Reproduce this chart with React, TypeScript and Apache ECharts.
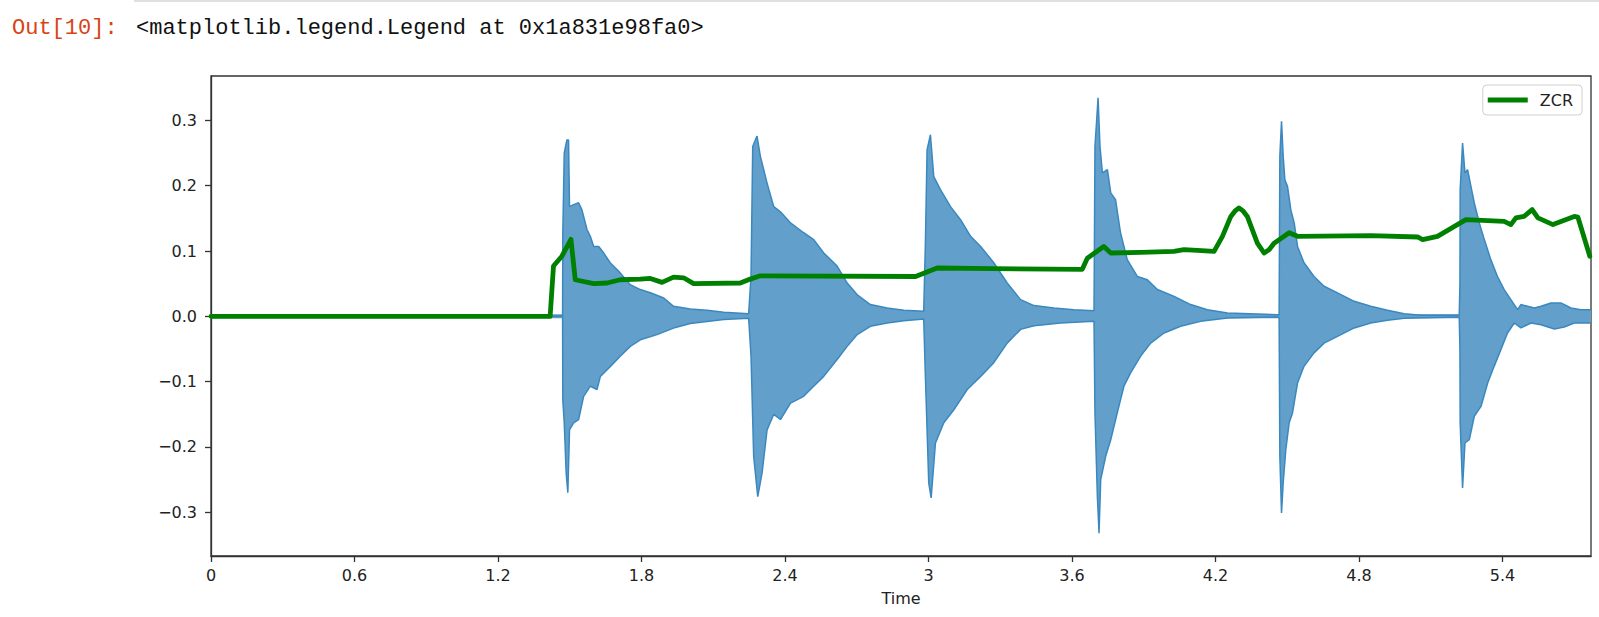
import React, { useEffect, useRef } from "react";
import * as echarts from "echarts";

const xTicks = [0, 0.6, 1.2, 1.8, 2.4, 3, 3.6, 4.2, 4.8, 5.4];
const yTicks = [-0.3, -0.2, -0.1, 0, 0.1, 0.2, 0.3];

// waveform envelope (time s, amplitude)
const upperEnv: [number, number][] = [
  [0, 0], [1.47, 0], [1.471, 0.128], [1.477, 0.25], [1.488, 0.27], [1.495, 0.27], [1.499, 0.168], [1.516, 0.171], [1.537, 0.174], [1.551, 0.163], [1.572, 0.133], [1.586, 0.1225], [1.6, 0.107], [1.621, 0.107], [1.642, 0.097], [1.669, 0.082], [1.711, 0.0665], [1.753, 0.0485], [1.795, 0.041], [1.837, 0.036], [1.893, 0.028], [1.934, 0.0153], [2.004, 0.0113], [2.074, 0.0092], [2.144, 0.0061], [2.248, 0.004],
  [2.258, 0.061], [2.265, 0.26], [2.283, 0.276], [2.297, 0.245], [2.325, 0.204], [2.353, 0.168], [2.381, 0.16], [2.423, 0.143], [2.478, 0.128], [2.52, 0.1175], [2.562, 0.097], [2.618, 0.077], [2.66, 0.051], [2.702, 0.033], [2.757, 0.018], [2.827, 0.0128], [2.897, 0.0092], [2.98, 0.0077],
  [2.987, 0.112], [2.994, 0.255], [3.008, 0.278], [3.022, 0.214], [3.05, 0.194], [3.092, 0.168], [3.134, 0.148], [3.176, 0.1225], [3.218, 0.107], [3.273, 0.082], [3.329, 0.051], [3.385, 0.0256], [3.441, 0.0164], [3.524, 0.0128], [3.608, 0.0102], [3.692, 0.0087],
  [3.696, 0.26], [3.709, 0.3345], [3.717, 0.26], [3.727, 0.2196], [3.748, 0.2246], [3.762, 0.189], [3.782, 0.1786], [3.803, 0.1276], [3.831, 0.0868], [3.873, 0.061], [3.915, 0.056], [3.957, 0.041], [4.027, 0.0306], [4.096, 0.018], [4.166, 0.0102], [4.25, 0.0052], [4.459, 0.0026],
  [4.466, 0.002], [4.469, 0.245], [4.476, 0.2986], [4.483, 0.245], [4.49, 0.209], [4.501, 0.199], [4.515, 0.163], [4.529, 0.143], [4.543, 0.107], [4.57, 0.082], [4.612, 0.061], [4.654, 0.046], [4.71, 0.036], [4.78, 0.023], [4.849, 0.0153], [4.919, 0.0092], [4.989, 0.004], [5.059, 0.0015], [5.219, 0.0015],
  [5.222, 0.05], [5.223, 0.194], [5.233, 0.2655], [5.243, 0.2196], [5.254, 0.2246], [5.268, 0.199], [5.282, 0.1736], [5.303, 0.143], [5.324, 0.1175], [5.351, 0.0868], [5.379, 0.061], [5.407, 0.041], [5.435, 0.0256], [5.463, 0.0102], [5.477, 0.018], [5.505, 0.0153], [5.533, 0.0128], [5.561, 0.0153], [5.603, 0.0205], [5.644, 0.0205], [5.686, 0.0128], [5.728, 0.0102], [5.77, 0.0102],
];

const lowerEnv: [number, number][] = [
  [0, 0], [1.47, 0], [1.471, -0.128], [1.477, -0.163], [1.485, -0.24], [1.492, -0.27], [1.499, -0.174], [1.516, -0.163], [1.537, -0.158], [1.558, -0.1225], [1.586, -0.107], [1.614, -0.112], [1.628, -0.092], [1.669, -0.077], [1.711, -0.061], [1.753, -0.046], [1.795, -0.036], [1.865, -0.028], [1.934, -0.018], [2.004, -0.011], [2.144, -0.005], [2.248, -0.003],
  [2.258, -0.061], [2.269, -0.214], [2.286, -0.276], [2.304, -0.24], [2.325, -0.174], [2.353, -0.15], [2.381, -0.158], [2.423, -0.133], [2.478, -0.1225], [2.52, -0.107], [2.562, -0.092], [2.618, -0.066], [2.66, -0.046], [2.702, -0.028], [2.757, -0.0153], [2.827, -0.0102], [2.897, -0.0066], [2.98, -0.004],
  [2.987, -0.092], [3.001, -0.255], [3.011, -0.278], [3.029, -0.194], [3.064, -0.163], [3.106, -0.143], [3.162, -0.112], [3.218, -0.092], [3.273, -0.071], [3.329, -0.041], [3.385, -0.02], [3.441, -0.0143], [3.552, -0.0102], [3.692, -0.0077],
  [3.696, -0.148], [3.706, -0.2756], [3.713, -0.332], [3.72, -0.25], [3.741, -0.214], [3.762, -0.189], [3.789, -0.148], [3.817, -0.107], [3.845, -0.0867], [3.887, -0.061], [3.929, -0.041], [3.985, -0.0255], [4.054, -0.0153], [4.138, -0.0077], [4.25, -0.0025], [4.459, -0.001],
  [4.466, -0.002], [4.469, -0.214], [4.476, -0.301], [4.483, -0.255], [4.494, -0.204], [4.508, -0.163], [4.522, -0.148], [4.543, -0.102], [4.57, -0.0766], [4.612, -0.056], [4.654, -0.041], [4.71, -0.0306], [4.78, -0.0178], [4.849, -0.0102], [4.919, -0.0061], [4.989, -0.003], [5.219, -0.001],
  [5.222, -0.05], [5.223, -0.163], [5.233, -0.263], [5.243, -0.194], [5.261, -0.189], [5.282, -0.153], [5.31, -0.138], [5.338, -0.102], [5.365, -0.0766], [5.393, -0.051], [5.421, -0.0255], [5.449, -0.0102], [5.477, -0.0178], [5.519, -0.0102], [5.561, -0.0128], [5.617, -0.0194], [5.658, -0.0163], [5.7, -0.0102], [5.77, -0.0102],
];

const zcr: [number, number][] = [
  [0, 0], [1.418, 0], [1.432, 0.077], [1.467, 0.092], [1.505, 0.118], [1.523, 0.056], [1.6, 0.05], [1.656, 0.051], [1.711, 0.056], [1.795, 0.057], [1.837, 0.058], [1.886, 0.052], [1.934, 0.06], [1.976, 0.059], [2.018, 0.05], [2.213, 0.051], [2.255, 0.057], [2.297, 0.062], [2.946, 0.061], [3.036, 0.074], [3.273, 0.073], [3.643, 0.072], [3.664, 0.089], [3.733, 0.107], [3.762, 0.097], [3.887, 0.098], [4.026, 0.0995], [4.068, 0.102], [4.124, 0.101], [4.194, 0.0995], [4.229, 0.1225], [4.264, 0.153], [4.281, 0.161], [4.298, 0.166], [4.316, 0.161], [4.333, 0.153], [4.375, 0.112], [4.403, 0.097], [4.424, 0.102], [4.445, 0.112], [4.508, 0.128], [4.543, 0.1225], [4.849, 0.1235], [5.045, 0.1215], [5.066, 0.1175], [5.128, 0.1225], [5.247, 0.148], [5.407, 0.1455], [5.435, 0.1405], [5.456, 0.1507], [5.49, 0.153], [5.524, 0.1634], [5.548, 0.1507], [5.611, 0.1405], [5.7, 0.153], [5.715, 0.152], [5.765, 0.092],
];

const WAVE_FILL = "#62a0cb";
const WAVE_EDGE = "#3a88bf";
const AXIS = "#333";
const TXT = "#222";
const FONT = "DejaVu Sans";

export default function App() {
  const ref = useRef<HTMLDivElement>(null);
  useEffect(() => {
    if (!ref.current) return;
    const chart = echarts.init(ref.current, null, { renderer: "svg" });
    const fmtY = (v: number) => {
      const r = Math.round(v * 10) / 10;
      return (r < 0 ? "\u2212" : "") + Math.abs(r).toFixed(1);
    };
    chart.setOption({
      animation: false,
      backgroundColor: "#fff",
      grid: {
        left: 211, top: 76, width: 1380, height: 480,
        show: true, borderColor: AXIS, borderWidth: 1.3, backgroundColor: "transparent",
      },
      legend: {
        show: true,
        right: 17, top: 85,
        data: [{ name: "ZCR", icon: "rect" }],
        itemWidth: 40, itemHeight: 5,
        padding: [7, 9, 7, 5],
        borderColor: "#d0d0d0", borderWidth: 1, borderRadius: 4,
        backgroundColor: "rgba(255,255,255,0.8)",
        textStyle: { color: TXT, fontFamily: FONT, fontSize: 16, padding: [0, 0, 0, 7] },
        selectedMode: false,
      },
      xAxis: {
        type: "value", min: 0, max: 5.77,
        name: "Time", nameLocation: "middle", nameGap: 34,
        nameTextStyle: { color: TXT, fontFamily: FONT, fontSize: 16 },
        axisLine: { show: true, onZero: false, lineStyle: { color: AXIS, width: 1.3 } },
        axisTick: { show: true, length: 6, lineStyle: { color: AXIS, width: 1.3 }, customValues: xTicks },
        axisLabel: {
          color: TXT, fontFamily: FONT, fontSize: 16, margin: 11, customValues: xTicks,
          formatter: (v: number) => String(Math.round(v * 10) / 10),
        },
        splitLine: { show: false },
      },
      yAxis: {
        type: "value", min: -0.367, max: 0.368,
        axisLine: { show: true, onZero: false, lineStyle: { color: AXIS, width: 1.3 } },
        axisTick: { show: true, length: 6, lineStyle: { color: AXIS, width: 1.3 }, customValues: yTicks },
        axisLabel: {
          color: TXT, fontFamily: FONT, fontSize: 16, margin: 14, customValues: yTicks,
          formatter: fmtY,
        },
        splitLine: { show: false },
      },
      graphic: [
        { type: "rect", shape: { x: 134, y: 0, width: 1465, height: 2 }, style: { fill: "#e0e0e0" } },
        { type: "text", x: 12, y: 17, style: { text: "Out[10]:", fill: "#d84315", font: '22px "Liberation Mono"' } },
        { type: "text", x: 136, y: 17, style: { text: "<matplotlib.legend.Legend at 0x1a831e98fa0>", fill: "#111", font: '22px "Liberation Mono"' } },
      ],
      series: [
        {
          name: "wave+", type: "line", data: upperEnv, symbol: "none", silent: true,
          lineStyle: { color: WAVE_EDGE, width: 1.5 },
          areaStyle: { color: WAVE_FILL, opacity: 1, origin: -0.003 },
          itemStyle: { color: WAVE_EDGE }, z: 1,
        },
        {
          name: "wave-", type: "line", data: lowerEnv, symbol: "none", silent: true,
          lineStyle: { color: WAVE_EDGE, width: 1.5 },
          areaStyle: { color: WAVE_FILL, opacity: 1, origin: 0.003 },
          itemStyle: { color: WAVE_EDGE }, z: 1,
        },
        {
          name: "ZCR", type: "line", data: zcr, symbol: "none",
          lineStyle: { color: "#008000", width: 4.8, join: "round", cap: "round" },
          itemStyle: { color: "#008000" }, z: 3,
        },
      ],
    });
    return () => chart.dispose();
  }, []);
  return (
    <div
      ref={ref}
      style={{ position: "fixed", left: 0, top: 0, width: 1599, height: 617, background: "#fff" }}
    />
  );
}
